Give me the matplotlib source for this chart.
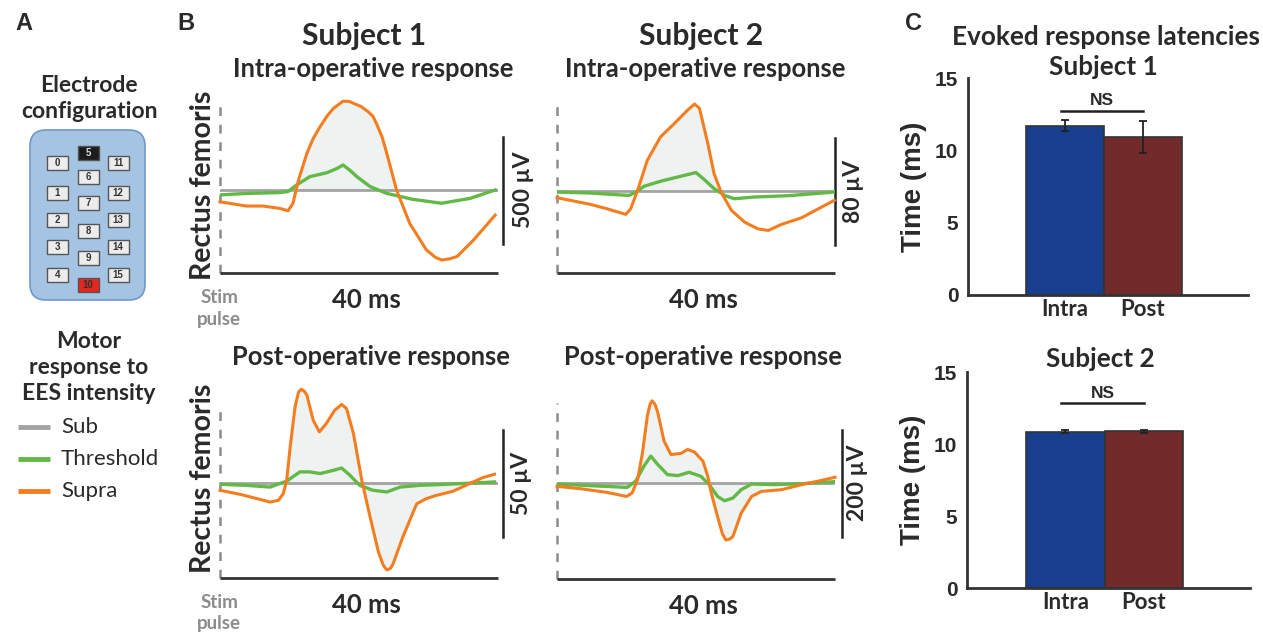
import numpy as np
import matplotlib.pyplot as plt
from matplotlib.patches import FancyBboxPatch, Rectangle

W, H = 1263, 632

# ---------------- data ----------------
# evoked traces (time in ms after stim pulse, amplitude in uV)
s1_intra_supra_t = [0, 3.8, 6.2, 8.6, 9.8, 10.5, 11.3, 12.5, 13.4, 14.4, 15.4, 16.3, 17.7, 18.6, 19.2,
                    20.3, 21.3, 22.0, 22.5, 23.3, 24.0, 25.4, 27.3, 29.7, 31.0, 31.9, 33.0, 34.1, 36.5, 39.6]
s1_intra_supra_v = [-55, -75, -75, -86, -97, -62, 47, 171, 240, 296, 345, 381, 415, 414, 405,
                    390, 366, 345, 311, 250, 171, 0, -156, -280, -315, -327, -322, -311, -233, -117]
s1_intra_thr_t = [0, 3.8, 8.6, 9.8, 11.0, 12.9, 15.4, 16.8, 17.7, 18.7, 19.7, 21.6, 24.0, 27.8, 31.9, 36.0, 39.6]
s1_intra_thr_v = [-23, -16, -12, -7, 23, 62, 81, 100, 117, 92, 62, 16, -16, -44, -62, -39, 0]

s2_intra_supra_t = [0, 4.8, 7.2, 9.9, 10.6, 11.6, 13.0, 14.9, 16.9, 18.8, 19.8, 20.5, 21.7, 22.6,
                    23.6, 25.1, 27.0, 28.9, 30.4, 32.3, 35.2, 37.6, 39.9]
s2_intra_supra_v = [-5, -10, -13.3, -17.5, -13.3, 0.5, 23, 40.5, 50.5, 60.5, 65, 61.8, 35.5, 13,
                    -0.8, -14.5, -23.3, -28.3, -29.5, -25, -20, -13.3, -7]
s2_intra_thr_t = [0, 4.8, 8.7, 10.4, 11.6, 12.5, 14.9, 17.8, 20.0, 21.2, 22.6, 24.1, 25.5, 28.4, 33.3, 39.9]
s2_intra_thr_v = [-0.8, -1.5, -2.8, -3.3, 0, 3.5, 7.3, 11, 13.8, 8.5, 1.8, -3.3, -5.8, -4.5, -3.5, -0.8]

s1_post_supra_t = [0, 2.9, 5.3, 7.2, 8.4, 9.1, 9.6, 10.1, 10.8, 11.3, 11.7, 12.1, 12.5, 13.4, 14.3, 15.3,
                   16.5, 17.5, 18.2, 19.2, 20.4, 21.6, 22.8, 23.5, 24.0, 24.5, 24.9, 26.3, 28.3, 29.7,
                   31.1, 33.5, 35.9, 37.8, 39.5]
s1_post_supra_v = [-3.4, -5.3, -7.3, -8.9, -8.1, -5, 1.3, 16.9, 35.6, 42.5, 43.8, 43.0, 41.1, 29.4, 23.9,
                   27.8, 34, 36.7, 34.8, 23.1, 1.3, -15.9, -32.3, -38.5, -40.6, -40.0, -37.8, -25.3,
                   -9.7, -7.3, -5.8, -3.9, -0.3, 2.5, 4.1]
s1_post_thr_t = [0, 3.8, 7.2, 9.6, 11.5, 12.9, 14.4, 16.3, 17.5, 18.7, 20.1, 22.0, 24.0, 25.9, 28.7, 32.6, 39.5]
s1_post_thr_v = [-0.6, -1.1, -1.9, 0.9, 5.2, 5.2, 4.4, 5.9, 7.0, 3.6, -1.1, -3.4, -4.2, -1.9, -1.1, -0.6, 0.5]

s2_post_supra_t = [0, 3.4, 7.2, 10.0, 10.8, 11.6, 12.3, 13.0, 13.4, 13.7, 14.1, 14.5, 15.4, 16.4, 17.8,
                   18.8, 19.8, 21.0, 21.7, 22.2, 23.1, 23.8, 24.3, 24.8, 25.3, 26.5, 28.0, 29.4, 32.3,
                   35.2, 38.1, 40.0]
s2_post_supra_v = [-6.3, -10.7, -17.6, -25.1, -18.8, 6.3, 56.4, 125.4, 148.0, 153.6, 147.0, 131.7, 78.4,
                   53.3, 55.2, 62.7, 57.7, 40.8, 12.5, -18.8, -62.7, -95.0, -106.6, -105.0, -100.3,
                   -56.4, -25.1, -15.7, -12.5, -3.1, 5.0, 10.7]
s2_post_thr_t = [0, 4.8, 10.1, 11.3, 12.5, 13.5, 14.5, 15.9, 17.4, 19.0, 20.7, 21.9, 23.1, 24.1, 25.3,
                 26.5, 28.0, 31.3, 35.2, 40.0]
s2_post_thr_v = [-1.9, -5.0, -8.2, 3.1, 31.4, 50.2, 34.5, 15.7, 13.8, 20.1, 12.5, -3.1, -25.1, -33.2,
                 -28.2, -12.5, -1.9, -3.1, -1.3, 2.5]

sub_t = [0, 10, 20, 30, 40]
sub_v = [0, 0, 0, 0, 0]

scale_bars = [500, 80, 50, 200]           # uV
shade_windows = [(11.0, 25.4), (11.6, 23.6), (9.6, 35.9), (11.5, 29.4)]

# latencies (ms)
groups = ['Intra', 'Post']
s1_latency = [11.7, 10.95]
s1_sem = [0.38, 1.1]
s2_latency = [10.85, 10.88]
s2_sem = [0.1, 0.1]

electrodes_left = ['0', '1', '2', '3', '4']
electrodes_mid = ['5', '6', '7', '8', '9', '10']
electrodes_right = ['11', '12', '13', '14', '15']

# ---------------- style ----------------
TXT = '#2a2a2a'
ORANGE = '#f47d20'
GREEN = '#62b946'
GRAY = '#a3a3a3'
SHADE = '#eef2f1'
HUM = 'Lato'
ARIAL = 'Liberation Sans'


def box(x0, y0, x1, y1):
    return [x0 / W, 1 - y1 / H, (x1 - x0) / W, (y1 - y0) / H]


def ftext(x, y, s, size=15, family=HUM, weight='bold', color=TXT, **kw):
    kw.setdefault('ha', 'center')
    kw.setdefault('va', 'center')
    fig.text(x / W, 1 - y / H, s, fontsize=size, family=family, fontweight=weight, color=color, **kw)


fig = plt.figure(figsize=(W / 100, H / 100), dpi=100)
ov = fig.add_axes([0, 0, 1, 1], zorder=-1)
ov.set_xlim(0, W)
ov.set_ylim(H, 0)
ov.axis('off')

# panel letters
for x, s in [(24, 'A'), (186, 'B'), (914, 'C')]:
    ftext(x, 24, s, size=17, family=ARIAL)

# ---------------- panel A ----------------
ftext(89, 85, 'Electrode', size=16.5)
ftext(89, 112, 'configuration', size=16.5)
ov.add_patch(FancyBboxPatch((30, 130), 115, 170, boxstyle='round,pad=0,rounding_size=16',
                            fc='#a5c4e4', ec='#6d98c9', lw=1.2))
cols = [(57.5, electrodes_left, [163, 193, 220, 247, 275]),
        (88, electrodes_mid, [153, 177, 203, 231, 258, 285]),
        (118, electrodes_right, [163, 193, 220, 247, 275])]
for cx, labels, ys in cols:
    for lab, cy in zip(labels, ys):
        fc, tc = '#ececec', '#333333'
        if lab == '5':
            fc, tc = '#1c1c1c', '#dddddd'
        elif lab == '10':
            fc, tc = '#e5261b', '#333333'
        ov.add_patch(Rectangle((cx - 10.5, cy - 7), 21, 14, fc=fc, ec='#555555', lw=1))
        ov.text(cx, cy, lab, ha='center', va='center', fontsize=7, fontweight='bold',
                family=ARIAL, color=tc)

ftext(89, 341, 'Motor', size=16.5)
ftext(89, 367, 'response to', size=16.5)
ftext(89, 394, 'EES intensity', size=16.5)
for y, c, lab in [(427, GRAY, 'Sub'), (459, GREEN, 'Threshold'), (491, ORANGE, 'Supra')]:
    ov.plot([18, 50], [y, y], color=c, lw=3.5, solid_capstyle='butt')
    ov.text(61, y, lab, ha='left', va='center', fontsize=16, family=HUM, color=TXT)

# ---------------- panel B ----------------
ftext(364, 36, 'Subject 1', size=21.5)
ftext(701, 36, 'Subject 2', size=21.5)
ftext(373, 69, 'Intra-operative response', size=18.4)
ftext(705, 69, 'Intra-operative response', size=18.4)
ftext(371, 357, 'Post-operative response', size=18.4)
ftext(703, 357, 'Post-operative response', size=18.4)

traces = [
    (s1_intra_supra_t, s1_intra_supra_v, s1_intra_thr_t, s1_intra_thr_v),
    (s2_intra_supra_t, s2_intra_supra_v, s2_intra_thr_t, s2_intra_thr_v),
    (s1_post_supra_t, s1_post_supra_v, s1_post_thr_t, s1_post_thr_v),
    (s2_post_supra_t, s2_post_supra_v, s2_post_thr_t, s2_post_thr_v),
]
# layout: x0, baseline, axis bottom, dash top, scale bar x, label x
layout = [(220, 190, 273, 102, 503, 523),
          (557, 191, 273, 102, 835, 853),
          (220, 483, 578, 403, 503, 522),
          (557, 483, 579, 403, 842, 857)]

for i, ((st, sv, tt, tv), scale, win, (x0, base, bot, dtop, bx, lx)) in enumerate(
        zip(traces, scale_bars, shade_windows, layout)):
    k = scale / 107.0
    x1 = x0 + 278
    ax = fig.add_axes(box(x0, base - 100, x1, bot))
    ylo, yhi = -(bot - base) * k, 100 * k
    ax.set_xlim(0, 40)
    ax.set_ylim(ylo, yhi)
    ax.axis('off')
    st_a, sv_a = np.array(st), np.array(sv)
    m = (st_a >= win[0]) & (st_a <= win[1])
    ax.fill_between(st_a[m], sv_a[m], 0, color=SHADE, lw=0, zorder=1)
    ax.plot([0, 0], [ylo, (base - dtop) * k], color='#8c8c8c', lw=1.8, ls=(0, (3.5, 3.5)),
            clip_on=False, zorder=2)
    ax.plot([0, 40], [ylo, ylo], color='#333333', lw=2, clip_on=False, solid_capstyle='butt')
    ax.plot(sub_t, sub_v, color=GRAY, lw=2, zorder=3)
    ax.plot(tt, tv, color=GREEN, lw=2.4, zorder=4, solid_joinstyle='round')
    ax.plot(st, sv, color=ORANGE, lw=2.2, zorder=5, solid_joinstyle='round', clip_on=False)
    xb = 40 * (bx - x0) / 278
    ax.plot([xb, xb], [-scale / 2, scale / 2], color='#222222', lw=1.8, clip_on=False)
    ftext(lx, base, f'{scale} µV', size=16.5, rotation=90)
    ftext(x0 + 146, bot + 27, '40 ms', size=18.5)
    if i % 2 == 0:
        ftext(203, base - 5, 'Rectus femoris', size=20.5, rotation=90)
        ftext(219, bot + 24, 'Stim', size=13.5, color='#8c8c8c')
        ftext(219, bot + 46, 'pulse', size=13.5, color='#8c8c8c')

# ---------------- panel C ----------------
ftext(1106, 37, 'Evoked response latencies', size=18.8)
ftext(1103, 67, 'Subject 1', size=18.8)
ftext(1100, 359, 'Subject 2', size=18.8)

bar_colors = ['#173f8e', '#722a2b']
bar_sets = [((968, 78, 1248, 295), s1_latency, s1_sem, 12.75),
            ((967, 372, 1250, 588), s2_latency, s2_sem, 12.85)]
for (bx0, by0, bx1, by1), means, errs, ns_y in bar_sets:
    ax = fig.add_axes(box(bx0, by0, bx1, by1))
    xpos = np.arange(len(groups))
    ax.bar(xpos, means, width=1.0, color=bar_colors, edgecolor='#333333', lw=1.2, zorder=2)
    ax.errorbar(xpos, means, yerr=errs, fmt='none', ecolor='#222222', elinewidth=1.3,
                capsize=3, capthick=1.3, zorder=3)
    ax.plot([-0.05, 1.0], [ns_y, ns_y], color='#222222', lw=1.8)
    ax.text(0.475, ns_y + 0.15, 'NS', ha='center', va='bottom', fontsize=12.5,
            fontweight='bold', family=ARIAL, color=TXT)
    ax.set_xlim(-1.25, 2.35)
    ax.set_ylim(0, 15)
    ax.set_yticks([0, 5, 10, 15])
    ax.set_xticks(xpos)
    ax.set_xticklabels(groups, fontsize=16, family=HUM, fontweight='bold', color=TXT)
    for lab in ax.get_yticklabels():
        lab.set_fontsize(15)
        lab.set_family(ARIAL)
        lab.set_fontweight('bold')
        lab.set_color(TXT)
    ax.tick_params(axis='both', length=0)
    ax.tick_params(axis='y', pad=7)
    ax.tick_params(axis='x', pad=3)
    for s in ['top', 'right']:
        ax.spines[s].set_visible(False)
    for s in ['left', 'bottom']:
        ax.spines[s].set_linewidth(2)
        ax.spines[s].set_color('#333333')
    ax.set_ylabel('Time (ms)', fontsize=20, family=ARIAL, fontweight='bold', color=TXT, labelpad=6)
    ax.patch.set_alpha(0)

fig.savefig('out.png', dpi=100)
